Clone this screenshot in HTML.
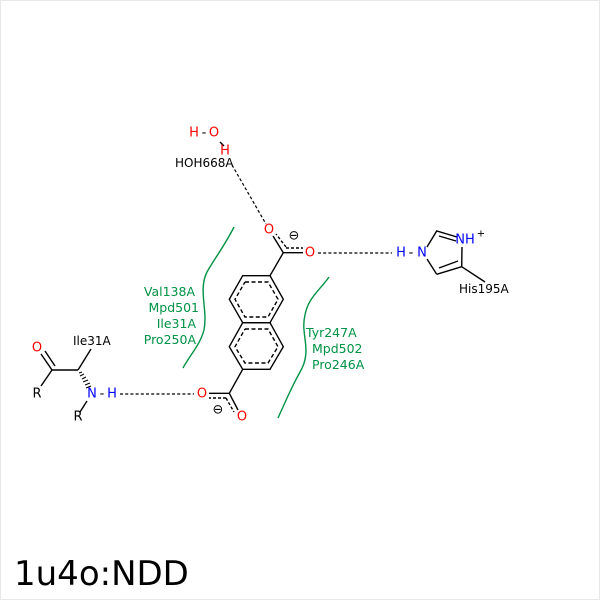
<!DOCTYPE html>
<html><head><style>body{margin:0;background:#fff}svg{display:block}</style></head><body>
<svg width="600" height="600" viewBox="0 0 600 600" xmlns="http://www.w3.org/2000/svg" font-family="DejaVu Sans, Liberation Sans, sans-serif">
<rect x="0.5" y="0.5" width="599" height="599" fill="#fff" stroke="#e8e8e8"/>
<g stroke="#000" stroke-width="1.4" fill="none">
<polygon points="242.7,275.7 270,275.7 283.3,299.3 270,322.7 242.7,322.7 229.3,299.3"/>
<polygon points="242.7,322.7 270,322.7 283.3,346.7 270,369.3 242.7,369.3 229.3,346.7"/>
<g stroke-dasharray="4,2.5">
<polyline points="245,282 268,282 278,299.3 268,317 245,317 235,299.3 245,282"/>
<polyline points="245,329 268,329 278,346.7 268,363 245,363 235,346.7 245,329"/>
</g>
<line x1="270" y1="275.7" x2="283.3" y2="252.7"/>
<line x1="283.3" y1="252.7" x2="303" y2="252.7"/>
<line x1="283.3" y1="252.7" x2="273" y2="236"/>
<line x1="286" y1="247" x2="276" y2="234" stroke-dasharray="3,2"/>
<line x1="286" y1="248" x2="303" y2="248" stroke-dasharray="3,2"/>
<line x1="242.7" y1="369.3" x2="229.3" y2="393.3"/>
<line x1="229.3" y1="393.3" x2="209" y2="393.3"/>
<line x1="229.3" y1="393.3" x2="238" y2="410"/>
<line x1="226" y1="398" x2="234" y2="412" stroke-dasharray="3,2"/>
<line x1="226" y1="398" x2="209" y2="398" stroke-dasharray="3,2"/>
<polyline points="427,247 436.7,231 457,237"/>
<line x1="439" y1="236" x2="456" y2="241"/>
<line x1="462" y1="247" x2="461.7" y2="266.7"/>
<line x1="461.7" y1="266.7" x2="436.7" y2="274.3"/>
<line x1="458" y1="261" x2="439" y2="268"/>
<polyline points="436.7,274.3 427,259"/>
<line x1="461.7" y1="266.7" x2="485" y2="282"/>
<line x1="41" y1="354" x2="52" y2="370"/><line x1="45" y1="351" x2="55" y2="366"/>
<line x1="52" y1="370" x2="41" y2="386"/>
<line x1="52" y1="370" x2="78" y2="370"/>
<line x1="78" y1="370" x2="91" y2="349"/>
<line x1="87" y1="401" x2="80" y2="412"/>
<line x1="220" y1="142" x2="224" y2="146"/>
</g>
<g stroke="#000" stroke-width="1">
<line x1="79" y1="373" x2="82" y2="372"/><line x1="80" y1="376" x2="84" y2="374"/><line x1="82" y1="379" x2="86" y2="377"/><line x1="83" y1="382" x2="88" y2="380"/><line x1="85" y1="385" x2="90" y2="383"/><line x1="86" y1="388" x2="91" y2="386"/>
</g>
<g stroke="#000" stroke-width="1.2" stroke-dasharray="3,2.2" fill="none">
<line x1="232" y1="165" x2="266" y2="224"/>
<line x1="318" y1="253" x2="392" y2="253"/>
<line x1="120" y1="394" x2="194" y2="394"/>
</g>
<g stroke="#009245" stroke-width="1.4" fill="none">
<path d="M234,227 C225,245 215,258 207,272 C198,290 208,310 204,330 C200,345 190,355 183,368"/>
<path d="M329,277 C320,290 308,298 305,315 C300,335 313,350 300,372 C290,390 284,405 278,418"/>
</g>
<g font-size="13" text-anchor="middle" dominant-baseline="central">
<text x="194" y="133" fill="#f00">H</text><text x="204" y="133" fill="#000">-</text><text x="214" y="133" fill="#f00">O</text>
<text x="225" y="151" fill="#f00">H</text>
<text x="269" y="230" fill="#f00">O</text>
<text x="310" y="253" fill="#f00">O</text>
<text x="202" y="394" fill="#f00">O</text>
<text x="242" y="417" fill="#f00">O</text>
<text x="294" y="236" fill="#000">⊖</text>
<text x="218" y="410" fill="#000">⊖</text>
<text x="401" y="253" fill="#00f">H</text><text x="411" y="253" fill="#000">-</text><text x="422" y="253" fill="#00f">N</text>
<text x="465" y="240" fill="#00f">NH</text><text x="481" y="234" fill="#000" font-size="10">+</text>
<text x="37" y="348" fill="#f00">O</text>
<text x="37" y="394" fill="#000">R</text>
<text x="92" y="394" fill="#00f">N</text><text x="102" y="394" fill="#000">-</text><text x="112" y="394" fill="#00f">H</text>
<text x="78" y="417" fill="#000">R</text>
</g>
<g font-size="12" fill="#000">
<text x="175" y="167">HOH668A</text>
<text x="459" y="293">His195A</text>
<text x="73" y="345">Ile31A</text>
</g>
<g font-size="12.5" fill="#009245" text-anchor="end">
<text x="195" y="296">Val138A</text>
<text x="199" y="312">Mpd501</text>
<text x="196" y="328">Ile31A</text>
<text x="196" y="344">Pro250A</text>
</g>
<g font-size="12.5" fill="#009245">
<text x="306" y="337">Tyr247A</text>
<text x="312" y="353">Mpd502</text>
<text x="312" y="369">Pro246A</text>
</g>
<text x="14" y="585" font-size="34" fill="#000">1u4o:NDD</text>
</svg>
</body></html>
